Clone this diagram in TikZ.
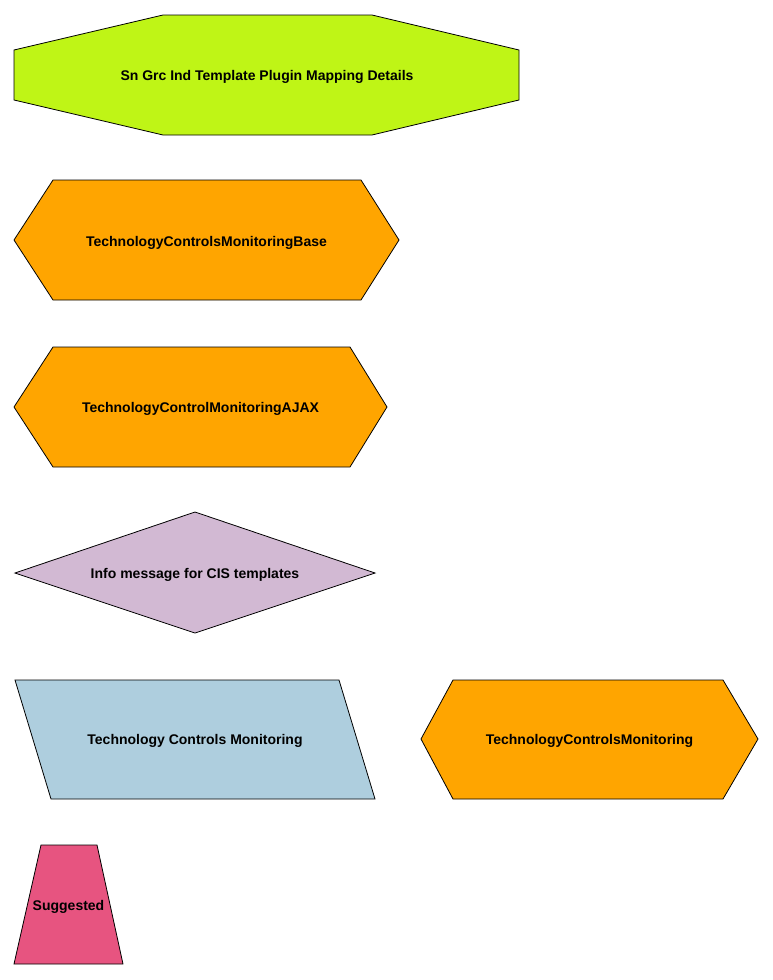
\documentclass[tikz,border=0pt]{standalone}
\usepackage{fontspec}
\setmainfont{Liberation Sans}
\definecolor{limefill}{RGB}{191, 245, 22}
\definecolor{orangefill}{RGB}{255, 165, 0}
\definecolor{thistlefill}{RGB}{210, 185, 211}
\definecolor{bluefill}{RGB}{174, 206, 222}
\definecolor{pinkfill}{RGB}{231, 84, 128}
\usepackage{tikz}
\usetikzlibrary{positioning}

\begin{document}
\begin{tikzpicture}[x=1pt, y=-1pt,
    shapeline/.style={draw=black, line width=0.8pt, line join=miter},
    txt/.style={font=\fontsize{14}{16}\selectfont\bfseries, text=black, inner sep=0pt}]
  \useasboundingbox (0,0) rectangle (772,980);

  % ===== octagon (top) =====
  \draw[shapeline, fill=limefill] (14,50) -- (163,15) -- (372,15) -- (519,50) -- (519,100) -- (372,135) -- (163,135) -- (14,100) -- cycle;
  \node[txt] (details) at (267,76.5) {Sn Grc Ind Template Plugin Mapping Details};

  % ===== hexagons =====
  \draw[shapeline, fill=orangefill] (14,240) -- (53,180) -- (361,180) -- (399,240) -- (361,300) -- (53,300) -- cycle;
  \node[txt] (base) at (206.5,242.5) {TechnologyControlsMonitoringBase};

  \draw[shapeline, fill=orangefill] (14,407) -- (53,347) -- (350,347) -- (387,407) -- (350,467) -- (53,467) -- cycle;
  \node[txt] (ajax) at (200.5,408.5) {TechnologyControlMonitoringAJAX};

  % ===== diamond =====
  \draw[shapeline, fill=thistlefill] (15,573) -- (195,512) -- (375,573) -- (195,633) -- cycle;
  \node[txt] (info) at (195,574.5) {Info message for CIS templates};

  % ===== parallelogram + hexagon (row) =====
  \draw[shapeline, fill=bluefill] (15,680) -- (339,680) -- (375,799) -- (51,799) -- cycle;
  \node[txt] (tcm) at (195,740.5) {Technology Controls Monitoring};

  \draw[shapeline, fill=orangefill] (421,739) -- (453,680) -- (723,680) -- (758,739) -- (723,799) -- (453,799) -- cycle;
  \node[txt] (tcmcls) at (589.5,740.5) {TechnologyControlsMonitoring};

  % ===== trapezoid =====
  \draw[shapeline, fill=pinkfill] (41,845) -- (97,845) -- (123,964) -- (14,964) -- cycle;
  \node[txt] (suggested) at (68.5,906.5) {Suggested};
\end{tikzpicture}
\end{document}
